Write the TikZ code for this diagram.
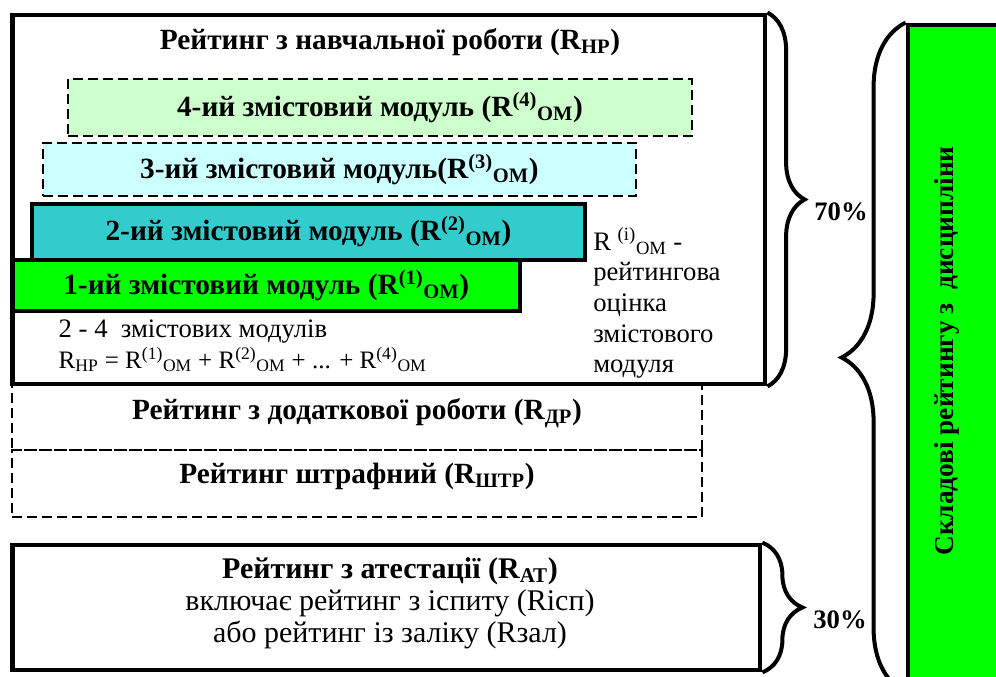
\documentclass[tikz,border=0pt]{standalone}
\usepackage{fontspec}
\setmainfont{Liberation Serif}[BoldFont={Liberation Serif Bold}, UprightFont={Liberation Serif}]
\usetikzlibrary{decorations.pathreplacing}

\definecolor{mod_four}{HTML}{CCFFCC}
\definecolor{mod_three}{HTML}{CCFFFF}
\definecolor{mod_two}{HTML}{33CCCC}
\definecolor{mod_one}{HTML}{00FF00}

\newcommand{\Rom}[1]{R\textsuperscript{(#1)}\textsubscript{ОМ}}

\begin{document}
\begin{tikzpicture}[x=0.75pt, y=-0.75pt]
    \tikzstyle{thick_box} = [draw=black, line width=3.6pt, rectangle, inner sep=0pt]
    \tikzstyle{dash_box} = [draw=black, line width=1.1pt, dash pattern=on 7.5pt off 3.75pt, rectangle, inner sep=0pt]
    \tikzstyle{head_text} = [font=\fontsize{22}{25}\selectfont\bfseries]
    \tikzstyle{body_text} = [font=\fontsize{20}{23}\selectfont]
    \tikzstyle{big_text} = [font=\fontsize{22.5}{24}\selectfont]
    \tikzstyle{brace_style} = [decorate, line width=3pt]

    \clip (0,0) rectangle (996,677);

    % additional and penalty rating
    \node[dash_box, minimum width=517.5pt, minimum height=49.5pt] (rdr) at (357,417) {};
    \node[dash_box, minimum width=517.5pt, minimum height=50.25pt] (rshtr) at (357,483.5) {};
    \node[head_text] (rdr_text) at (357,413) {Рейтинг з додаткової роботи (R\textsubscript{ДР})};
    \node[head_text] (rshtr_text) at (357,476) {Рейтинг штрафний (R\textsubscript{ШТР})};

    % rating for the study work
    \node[thick_box, minimum width=564.4pt, minimum height=276.75pt] (rnp) at (388.75,199.5) {};
    \node[head_text] (rnp_text) at (390,42) {Рейтинг з навчальної роботи (R\textsubscript{НР})};

    \node[dash_box, fill=mod_four, minimum width=468pt, minimum height=42.75pt, head_text] (m4) at (380,107.5) {4-ий змістовий модуль (\Rom{4})};
    \node[dash_box, fill=mod_three, minimum width=444.75pt, minimum height=39.75pt, head_text] (m3) at (339.5,169.5) {3-ий змістовий модуль(\Rom{3})};
    \node[thick_box, fill=mod_two, minimum width=414.75pt, minimum height=42pt, head_text] (m2) at (308.5,232) {2-ий змістовий модуль (\Rom{2})};
    \node[thick_box, fill=mod_one, minimum width=380.6pt, minimum height=38.25pt, head_text] (m1) at (266.25,285.5) {1-ий змістовий модуль (\Rom{1})};

    \node[body_text, anchor=west, align=left] (formula) at (54,346) {2 - 4\ \ змістових модулів\\{\fontsize{18.8}{23}\selectfont R\textsubscript{НР} = \Rom{1} + \Rom{2} + ... + \Rom{4}}};
    \node[body_text, anchor=north west, align=left, inner sep=0pt] (note) at (593,227) {R \textsuperscript{(i)}\textsubscript{ОМ} -\\рейтингова\\оцінка\\змістового\\модуля};

    % attestation rating
    \node[thick_box, minimum width=560.6pt, minimum height=93.75pt] (rat) at (386.25,607.5) {};
    \node[big_text, align=center] (rat_text) at (390,603) {\textbf{Рейтинг з атестації (R\textsubscript{АТ})}\\включає рейтинг з іспиту (Rісп)\\або рейтинг із заліку (Rзал)};

    % total
    \node[thick_box, fill=mod_one, minimum width=76.5pt, minimum height=498.75pt] (total) at (959,357.5) {};
    \node[head_text, font=\fontsize{20.5}{24}\selectfont\bfseries, rotate=90] (total_text) at (947,351) {Складові рейтингу з\ \ дисципліни};

    \draw[brace_style, decoration={brace, amplitude=28pt}] (rnp.north east) -- (rnp.south east);
    \draw[brace_style, decoration={brace, amplitude=30pt}] (rat.north east) -- (rat.south east);
    \draw[brace_style, decoration={brace, amplitude=48pt}] (total.south west) -- (total.north west);

    \node[head_text, font=\fontsize{20}{24}\selectfont\bfseries] (share_np) at (841,212) {70\%};
    \node[head_text, font=\fontsize{20}{24}\selectfont\bfseries] (share_at) at (840,620) {30\%};
\end{tikzpicture}
\end{document}
